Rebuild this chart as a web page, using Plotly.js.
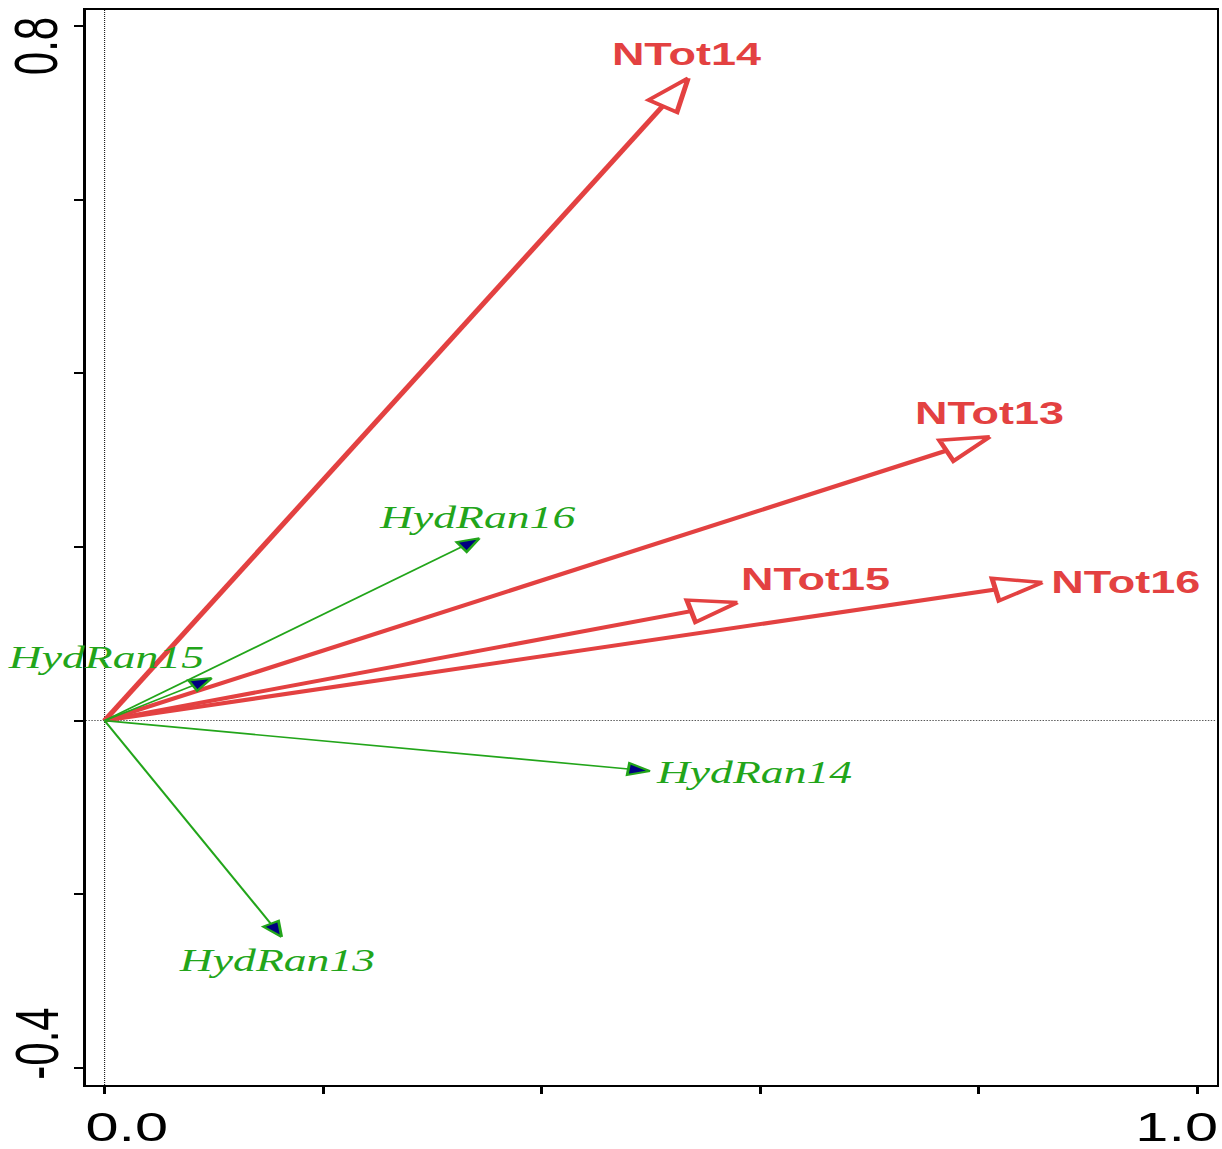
<!DOCTYPE html>
<html>
<head>
<meta charset="utf-8">
<script src="https://cdn.plot.ly/plotly-3.0.1.min.js"></script>
<style>
  html, body { margin: 0; padding: 0; background: #fff; overflow: hidden; }
  #chart { transform-origin: 0 0; }
</style>
</head>
<body>
<div id="chart"></div>
<script>
// ---------------- data ----------------
const ntotNames = ['NTot13', 'NTot14', 'NTot15', 'NTot16'];
const ntotX = [0.810, 0.534, 0.579, 0.858];
const ntotY = [0.327, 0.740, 0.136, 0.159];

const hydNames = ['HydRan13', 'HydRan14', 'HydRan15', 'HydRan16'];
const hydX = [0.162, 0.499, 0.098, 0.343];
const hydY = [-0.249, -0.058, 0.049, 0.210];

const xTickVals = [0, 0.2, 0.4, 0.6, 0.8, 1.0];
const xTickLabels = ['0.0', '', '', '', '', '1.0'];
const yTickVals = [-0.4, -0.2, 0, 0.2, 0.4, 0.6, 0.8];
const yTickLabels = ['-0.4', '', '', '', '', '', '0.8'];

// ---------------- layout / style ----------------
const S = 1.45;                 // horizontal stretch of the whole picture
const FULL_W = 1222, H = 1149;
const W = FULL_W / S;
const M = { l: 86 / S, r: (1222 - 1216) / S, t: 10, b: 64 };
const XR = [-0.0174, 1.0174];
const YR = [-0.4196, 0.8184];
const PW = W - M.l - M.r, PH = H - M.t - M.b;

const RED = '#e34141';
const GREEN = '#22a51a';
const NAVY = '#000080';

// label offsets (px, unscaled) relative to arrow tips
const ntotOffsets = { NTot13: [0, 23.5], NTot14: [-0.7, 24], NTot15: [53.8, 23], NTot16: [57.2, 0] };
const hydOffsets = { HydRan13: [-3.4, -24], HydRan14: [71.7, -1.5], HydRan15: [-73, 21], HydRan16: [-2, 21] };

function toPx(x, y) {
  return [(x - XR[0]) / (XR[1] - XR[0]) * PW, (YR[1] - y) / (YR[1] - YR[0]) * PH];
}
function fromPx(px, py) {
  return [XR[0] + px / PW * (XR[1] - XR[0]), YR[1] - py / PH * (YR[1] - YR[0])];
}
function arrowParts(x, y, L, w) {
  const o = toPx(0, 0), t = toPx(x, y);
  const dx = t[0] - o[0], dy = t[1] - o[1];
  const len = Math.hypot(dx, dy);
  const ux = dx / len, uy = dy / len;
  const bx = t[0] - L * ux, by = t[1] - L * uy;
  const nx = -uy, ny = ux;
  const c1 = fromPx(bx + w * nx, by + w * ny);
  const c2 = fromPx(bx - w * nx, by - w * ny);
  const b = fromPx(bx, by);
  return {
    shaft: { x: [0, b[0]], y: [0, b[1]] },
    head: { x: [x, c1[0], c2[0], x], y: [y, c1[1], c2[1], y] }
  };
}

const traces = [];
ntotNames.forEach((n, i) => {
  const p = arrowParts(ntotX[i], ntotY[i], 33, 11.5);
  traces.push({ type: 'scatter', mode: 'lines', x: p.shaft.x, y: p.shaft.y,
    line: { color: RED, width: 4 }, hoverinfo: 'skip' });
  traces.push({ type: 'scatter', mode: 'lines', x: p.head.x, y: p.head.y, fill: 'toself',
    fillcolor: '#ffffff', line: { color: RED, width: 3.5 }, hoverinfo: 'skip' });
});
hydNames.forEach((n, i) => {
  const p = arrowParts(hydX[i], hydY[i], 15, 6);
  traces.push({ type: 'scatter', mode: 'lines', x: p.shaft.x, y: p.shaft.y,
    line: { color: GREEN, width: 1.6 }, hoverinfo: 'skip' });
  traces.push({ type: 'scatter', mode: 'lines', x: p.head.x, y: p.head.y, fill: 'toself',
    fillcolor: NAVY, line: { color: GREEN, width: 2 }, hoverinfo: 'skip' });
});

const annotations = [];
ntotNames.forEach((n, i) => {
  annotations.push({ x: ntotX[i], y: ntotY[i], xref: 'x', yref: 'y', text: n, showarrow: false,
    xanchor: 'center', yanchor: 'middle', xshift: ntotOffsets[n][0], yshift: ntotOffsets[n][1],
    font: { family: 'Liberation Sans, Arial, sans-serif', size: 31, color: RED, weight: 'bold' } });
});
hydNames.forEach((n, i) => {
  annotations.push({ x: hydX[i], y: hydY[i], xref: 'x', yref: 'y', text: n, showarrow: false,
    xanchor: 'center', yanchor: 'middle', xshift: hydOffsets[n][0], yshift: hydOffsets[n][1],
    font: { family: 'Liberation Serif, Times New Roman, serif', size: 31.5, color: GREEN, style: 'italic' } });
});
const XTICKFONT = { family: 'Liberation Sans, Arial, sans-serif', size: 41, color: '#000' };
const YTICKFONT = { family: 'Liberation Sans, Arial, sans-serif', size: 42, color: '#000' };
xTickVals.forEach((v, i) => {
  if (!xTickLabels[i]) return;
  annotations.push({ x: v, y: 0, xref: 'x', yref: 'paper', text: xTickLabels[i], showarrow: false,
    xanchor: 'center', yanchor: 'top', xshift: i === 0 ? 15.2 : -14.8, yshift: -18, borderpad: 0,
    font: XTICKFONT });
});
yTickVals.forEach((v, i) => {
  if (!yTickLabels[i]) return;
  const top = v > 0;
  annotations.push({ x: 0, y: v, xref: 'paper', yref: 'y', text: yTickLabels[i], showarrow: false,
    textangle: -90, xanchor: 'left', yanchor: top ? 'top' : 'bottom', xshift: -M.l,
    yshift: top ? 11 : -13.5, font: YTICKFONT });
});

const axisCommon = {
  showgrid: false, zeroline: false, showline: true, linecolor: '#000', linewidth: 2, mirror: true,
  ticks: 'outside', tickcolor: '#000', tickwidth: 2, showticklabels: false, fixedrange: true
};

const layout = {
  width: W, height: H,
  margin: { l: M.l, r: M.r, t: M.t, b: M.b, pad: 0 },
  paper_bgcolor: '#fff', plot_bgcolor: '#fff',
  showlegend: false,
  xaxis: Object.assign({}, axisCommon, { range: XR, tickmode: 'array', tickvals: xTickVals, ticklen: 7 }),
  yaxis: Object.assign({}, axisCommon, { range: YR, tickmode: 'array', tickvals: yTickVals, ticklen: 6 }),
  shapes: [
    { type: 'line', xref: 'x', yref: 'paper', x0: 0, x1: 0, y0: 0, y1: 1, layer: 'below',
      line: { color: '#222', width: 0.8, dash: '1px,1px' } },
    { type: 'line', xref: 'paper', yref: 'y', x0: 0, x1: 1, y0: 0, y1: 0, layer: 'below',
      line: { color: '#222', width: 0.8, dash: '1px,1px' } }
  ],
  annotations: annotations
};

const el = document.getElementById('chart');
el.style.width = W + 'px';
el.style.height = H + 'px';
el.style.transform = 'scaleX(' + S + ')';
Plotly.newPlot(el, traces, layout, { staticPlot: true, displayModeBar: false });
</script>
</body>
</html>
